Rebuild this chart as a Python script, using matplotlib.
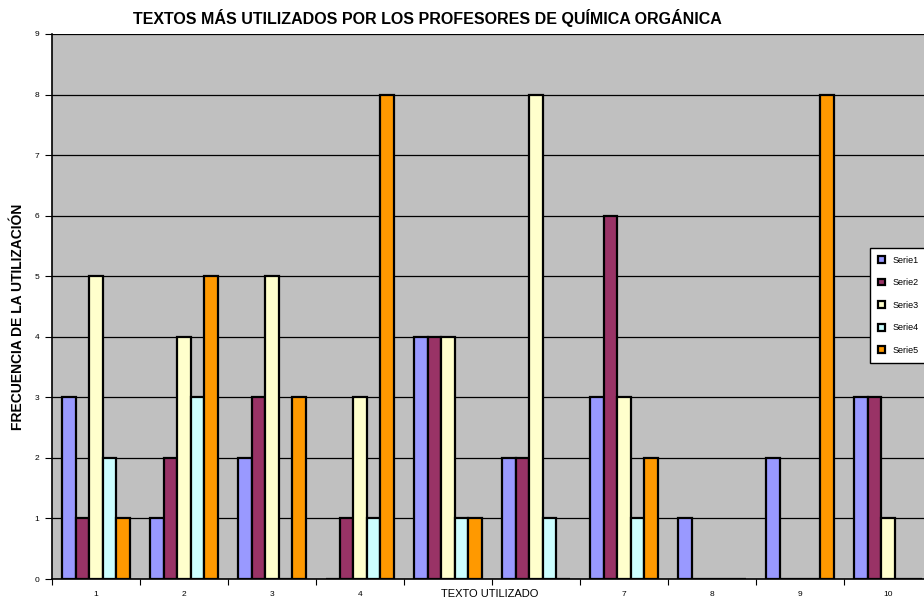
import numpy as np
import matplotlib
matplotlib.use("Agg")
import matplotlib.pyplot as plt

plt.rcParams['font.family'] = ['Liberation Sans', 'DejaVu Sans']

# Datos
categorias = ['1', '2', '3', '4', '', '', '7', '8', '9', '10']
series = ['Serie1', 'Serie2', 'Serie3', 'Serie4', 'Serie5']
serie1 = [3, 1, 2, 0, 4, 2, 3, 1, 2, 3]
serie2 = [1, 2, 3, 1, 4, 2, 6, 0, 0, 3]
serie3 = [5, 4, 5, 3, 4, 8, 3, 0, 0, 1]
serie4 = [2, 3, 0, 1, 1, 1, 1, 0, 0, 0]
serie5 = [1, 5, 3, 8, 1, 0, 2, 0, 8, 0]
colores = ['#9999FF', '#993366', '#FFFFCC', '#CCFFFF', '#FF9900']

valores = [serie1, serie2, serie3, serie4, serie5]

fig = plt.figure(figsize=(9.24, 6.03), dpi=100)
W, H = 924, 603
ax = fig.add_axes([52 / W, (H - 579) / H, 880 / W, 545 / H])
ax.set_facecolor('#C0C0C0')

x = np.arange(len(categorias))
ancho = 1 / 6.5
for i, (nombre, vals, c) in enumerate(zip(series, valores, colores)):
    ax.bar(x - 2 * ancho + i * ancho, vals, ancho, color=c, edgecolor='black',
           linewidth=1.6, label=nombre, zorder=3)

ax.set_xlim(-0.5, len(categorias) - 0.5)
ax.set_ylim(0, 9)
ax.set_yticks(range(10))
ax.yaxis.grid(True, color='black', linewidth=0.9, zorder=1)
ax.tick_params(axis='y', labelsize=6, length=5, direction='out', pad=4)

ax.set_xticks(np.arange(len(categorias) + 1) - 0.5)
ax.set_xticklabels([])
ax.tick_params(axis='x', which='major', length=4, direction='out')
ax.set_xticks(x, minor=True)
ax.set_xticklabels(categorias, minor=True, fontsize=6)
ax.tick_params(axis='x', which='minor', length=0, pad=9)

for s in ['top', 'right']:
    ax.spines[s].set_visible(False)
ax.spines['left'].set_linewidth(1.2)
ax.spines['bottom'].set_linewidth(1.2)

fig.text(18 / W, 1 - 317 / H, 'FRECUENCIA DE LA UTILIZACIÓN', fontsize=10,
         fontweight='bold', rotation=90, ha='center', va='center')
fig.text(490 / W, 1 - 594 / H, 'TEXTO UTILIZADO', fontsize=8, ha='center', va='center')

fig.text(427 / W, 1 - 18 / H, 'TEXTOS MÁS UTILIZADOS POR LOS PROFESORES DE QUÍMICA ORGÁNICA',
         fontsize=11.5, fontweight='bold', ha='center', va='center')

leg = fig.legend(loc='upper left', bbox_to_anchor=(865 / W, 1 - 243 / H), fontsize=6.5,
                 frameon=True, fancybox=False, edgecolor='black', framealpha=1,
                 handlelength=0.8, handleheight=0.8, labelspacing=1.5, borderpad=0.9)
leg.get_frame().set_linewidth(1.0)

fig.savefig('out.png', dpi=100)
